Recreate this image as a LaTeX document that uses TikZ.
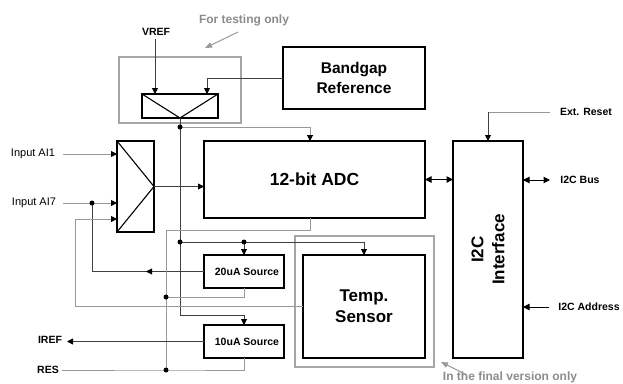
\documentclass[tikz,border=0pt]{standalone}
\usepackage{fontspec}
\setmainfont{Liberation Sans}
\usetikzlibrary{arrows.meta,calc}
\begin{document}
\begin{tikzpicture}[x=1pt,y=-1pt,
  box/.style={draw=black,line width=1.2pt,inner sep=0pt,outer sep=0pt,fill=white},
  frame/.style={draw=black!35,line width=1.2pt,inner sep=0pt,outer sep=0pt},
  big/.style={font=\fontsize{16}{20}\selectfont\bfseries,align=center},
  small/.style={font=\fontsize{10.5}{12}\selectfont\bfseries},
  reg/.style={font=\fontsize{11}{13}\selectfont},
  note/.style={font=\fontsize{12}{14}\selectfont\bfseries,text=black!45},
  wire/.style={draw=black!75,line width=0.9pt},
  lwire/.style={draw=black!40,line width=1pt},
  tip/.style={-{Triangle[length=6pt,width=6pt,color=black]}},
  dtip/.style={{Triangle[length=6.5pt,width=6.5pt]}-{Triangle[length=6.5pt,width=6.5pt]}},
  dot/.style={circle,fill=black,inner sep=0pt,minimum size=5pt}]
\useasboundingbox (0,0) rectangle (623,383);
\fill[white] (0,0) rectangle (623,383);
% frames
\node[frame,minimum width=122pt,minimum height=66pt] (tst) at (180,90) {};
\node[frame,minimum width=139pt,minimum height=131pt] (fin) at (364.5,301.5) {};
% boxes
\node[box,big,font=\fontsize{15.5}{20}\selectfont\bfseries,minimum width=142pt,minimum height=62pt] (bg) at (354,78) {Bandgap\\Reference};
\node[box,minimum width=76pt,minimum height=24pt] (mux1) at (180,106) {};
\node[box,big,font=\fontsize{17.5}{21}\selectfont\bfseries,minimum width=221pt,minimum height=77pt] (adc) at (314.5,179.5) {12-bit ADC};
\node[box,minimum width=37pt,minimum height=91pt] (mux2) at (135.5,186.5) {};
\node[box,minimum width=70pt,minimum height=217pt] (i2c) at (488,249.5) {};
\node[big,font=\fontsize{17}{21}\selectfont\bfseries,rotate=90] (i2ct) at (i2c.center) {I2C\\Interface};
\node[box,small,minimum width=80pt,minimum height=33pt] (s20) at (244,271.5) {\hspace*{6pt}20uA Source};
\node[box,small,minimum width=80pt,minimum height=33pt] (s10) at (244,341.5) {\hspace*{6pt}10uA Source};
\node[box,big,font=\fontsize{17}{21}\selectfont\bfseries,minimum width=122pt,minimum height=103pt] (ts) at (364,306.5) {Temp.\\Sensor};
% mux internals
\draw[line width=1.1pt] (mux1.north west) -- (mux1.south) -- (mux1.north east);
\draw[line width=1.1pt] (mux2.north west) -- (mux2.east) -- (mux2.south west);
% labels
\node[note] (ftxt) at (244,20) {For testing only};
\node[note] (ftxt2) at (510,377) {In the final version only};
\node[small] (vref) at (156,32) {VREF};
\node[reg] (ai1) at (33,154) {Input AI1};
\node[reg] (ai7) at (34,203) {Input AI7};
\node[small] (iref) at (50,340) {IREF};
\node[small] (res) at (48,370) {RES};
\node[small] (ext) at (586,112) {Ext. Reset};
\node[small] (bus) at (580,180) {I2C Bus};
\node[small] (addr) at (589,307) {I2C Address};
% note arrows
\coordinate (fa) at (238,32);
\coordinate (fb) at (465,374);
\draw[draw=black!40,line width=1pt,-{Triangle[length=7pt,width=5.5pt]}] (fa) -- (205,48);
\draw[draw=black!40,line width=1pt,-{Triangle[length=7pt,width=5.5pt]}] (fb) -- (441,362);
% coordinates
\coordinate (d1) at (180,127);
\coordinate (d2) at (180,242);
\coordinate (d3) at (244,242);
\coordinate (d4) at (92,203);
\coordinate (d5) at (166,370);
\coordinate (d6) at (166,297);
\coordinate (in3) at (117,219);
% VREF and bandgap into mux1
\draw[wire,tip] (vref.south -| 155,0) -- (155,94);
\draw[wire,tip] (bg.west) -| (207,94);
% mux1 output
\draw[wire] (mux1.south) -- (d1);
\draw[lwire,tip] (d1) -| (310,141);
\draw[wire] (d1) -- (180,315) -| (s10.north);
\draw[wire,tip] (180,315) -| (s10.north);
\draw[wire,tip] (d2) -| (ts.north);
\draw[wire,tip] (d3) -- (s20.north);
% inputs
\draw[lwire,tip] (63,154) -- (117,154);
\draw[lwire,tip] (63,203) -- (117,203);
\draw[wire] (d4) |- (s20.west);
\draw[wire,tip] (s20.west) -- ($(s20.west)+(-58,0)$);
\draw[lwire,tip] (ts.west) -| (75,219) -- (in3);
\draw[wire,tip] (mux2.east) -- (mux2.east -| adc.west);
% RES network
\draw[lwire] (res.east) -- (d5) -| (s10.south);
\draw[lwire] (d5) |- (310,230) -- (adc.south -| 310,0);
\draw[lwire] (d6) -| (s20.south);
% IREF
\draw[wire,tip] (s10.west) -- (67,341.5);
% I2C
\draw[line width=1pt,dtip] (adc.east) -- (adc.east -| i2c.west);
\draw[line width=1pt,dtip] (i2c.east |- 0,180) -- (550,180);
\draw[line width=1pt,-{Triangle[length=6.5pt,width=6.5pt]}] (549,307) -- (i2c.east |- 0,307);
\draw[lwire] (550,112) -- (488,112);
\draw[wire,tip] (488,112) -- (i2c.north);
% dots
\foreach \d in {d1,d2,d3,d4,d5,d6} \node[dot] at (\d) {};
\end{tikzpicture}
\end{document}
